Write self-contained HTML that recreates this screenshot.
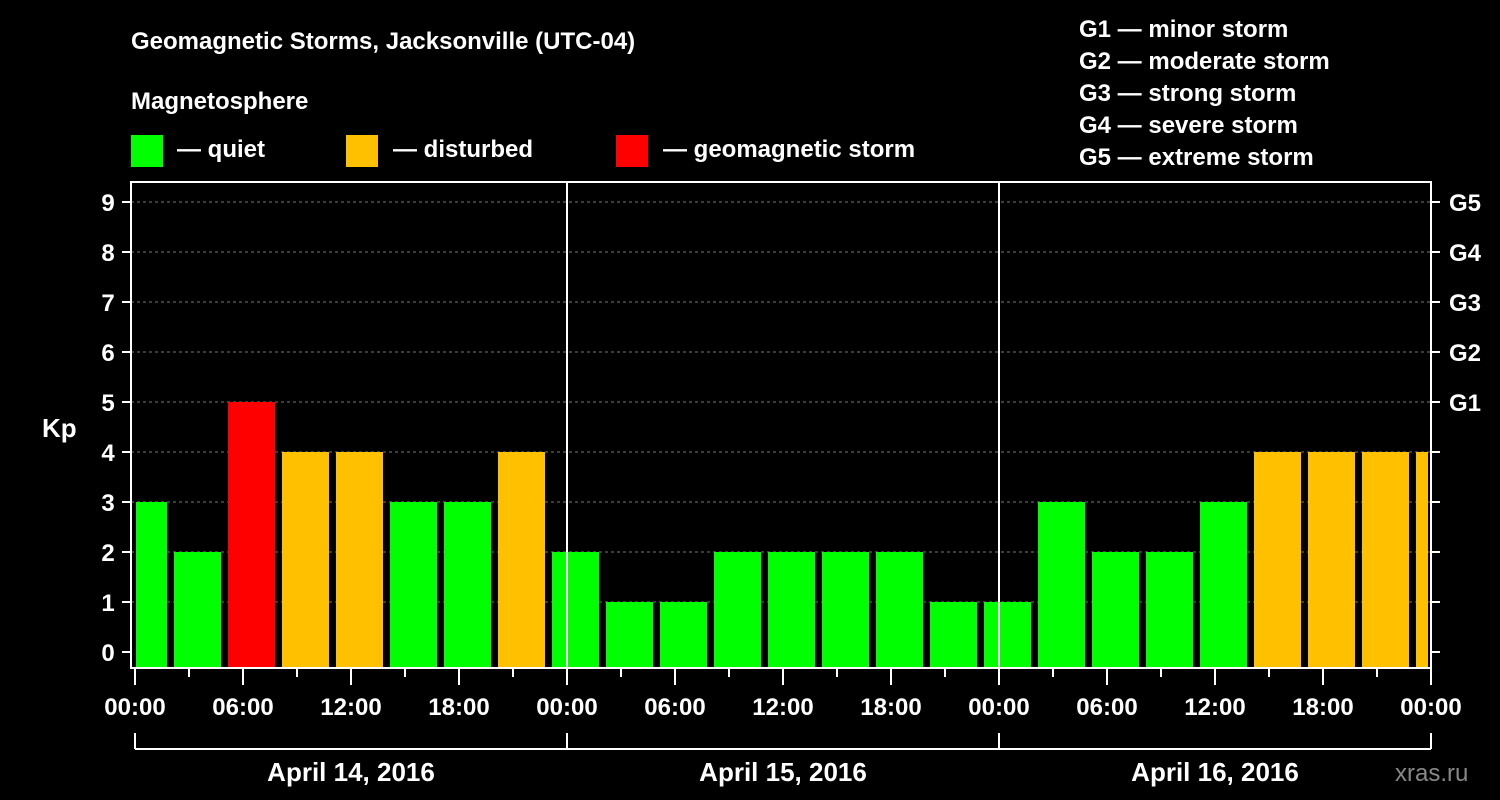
<!DOCTYPE html>
<html><head><meta charset="utf-8"><style>
body{margin:0;background:#000;}
svg{display:block;font-family:"Liberation Sans",Arial,sans-serif;font-weight:bold;}
</style></head><body>
<svg id="chart" width="1500" height="800">
<rect width="1500" height="800" fill="#000"/>
<text x="131" y="49" fill="#fff" font-size="24">Geomagnetic Storms, Jacksonville (UTC-04)</text>
<text x="131" y="109" fill="#fff" font-size="24">Magnetosphere</text>
<g><rect x="131" y="135" width="32" height="32" fill="#00ff00"/><text x="177" y="157" fill="#fff" font-size="24">— quiet</text></g>
<g><rect x="346" y="135" width="32" height="32" fill="#ffc000"/><text x="393" y="157" fill="#fff" font-size="24">— disturbed</text></g>
<g><rect x="616" y="135" width="32" height="32" fill="#ff0000"/><text x="663" y="157" fill="#fff" font-size="24">— geomagnetic storm</text></g>
<g fill="#fff" font-size="24">
<text x="1079" y="37">G1 — minor storm</text>
<text x="1079" y="69">G2 — moderate storm</text>
<text x="1079" y="101">G3 — strong storm</text>
<text x="1079" y="133">G4 — severe storm</text>
<text x="1079" y="165">G5 — extreme storm</text>
</g>
<text x="42" y="437" fill="#fff" font-size="26">Kp</text>
<text x="1395" y="781" fill="#888" font-size="24" font-weight="normal">xras.ru</text>
<g id="grid"></g><g id="bars"></g><g id="axes"></g>
</svg>
<script>
const kpValues=[3,2,5,4,4,3,3,4,2,1,1,2,2,2,2,1,1,3,2,2,3,4,4,4,4];
const barStartHours=[-1,2,5,8,11,14,17,20,23,26,29,32,35,38,41,44,47,50,53,56,59,62,65,68,71];
const dayLabels=["April 14, 2016","April 15, 2016","April 16, 2016"];
const hourLabels=["00:00","06:00","12:00","18:00"];
const gLabels=["G1","G2","G3","G4","G5"];
const NS="http://www.w3.org/2000/svg";
const X0=135,PX_H=18,Y0=652,PX_K=50,PL=131,PR=1431,PT=182,PB=668;
const xs=h=>X0+h*PX_H, ys=k=>Y0-k*PX_K;
function mk(t,a,p){const e=document.createElementNS(NS,t);for(const k in a)e.setAttribute(k,a[k]);p.appendChild(e);return e;}
const grid=document.getElementById('grid'),bars=document.getElementById('bars'),axes=document.getElementById('axes');
for(let k=1;k<=9;k++){const l=mk('line',{x1:PL,x2:PR,y1:ys(k),y2:ys(k),stroke:'#777','stroke-dasharray':'3,3'},grid);

}
kpValues.forEach((v,i)=>{
 let x1=Math.max(xs(barStartHours[i])+3,PL+5),x2=Math.min(xs(barStartHours[i]+3)-4,PR-3);
 const c=v>=5?'#ff0000':v>=4?'#ffc000':'#00ff00';
 const r=mk('rect',{x:x1,y:ys(v),width:x2-x1,height:PB-ys(v),fill:c},bars);
 
 
});
const fr=mk('rect',{x:PL,y:PT,width:PR-PL,height:PB-PT,fill:'none',stroke:'#fff','stroke-width':2},axes);


for(let d=1;d<3;d++){mk('line',{x1:xs(24*d),x2:xs(24*d),y1:PT,y2:PB,stroke:'#fff','stroke-width':2},axes);}
for(let k=0;k<=9;k++){
 mk('line',{x1:PL-9,x2:PL,y1:ys(k),y2:ys(k),stroke:'#fff','stroke-width':2},axes);
 mk('line',{x1:PR,x2:PR+9,y1:ys(k),y2:ys(k),stroke:'#fff','stroke-width':2},axes);
 const t=mk('text',{x:108,y:ys(k)+9,fill:'#fff','font-size':24,'text-anchor':'middle'},axes);t.textContent=k;
 
 
}
gLabels.forEach((g,i)=>{const t=mk('text',{x:1449,y:ys(5+i)+9,fill:'#fff','font-size':24},axes);t.textContent=g;
 
 });
for(let h=0;h<=72;h+=3){const major=h%6===0;
 mk('line',{x1:xs(h),x2:xs(h),y1:PB,y2:PB+(major?17:9),stroke:'#fff','stroke-width':2},axes);
 if(major){const t=mk('text',{x:xs(h),y:715,fill:'#fff','font-size':24,'text-anchor':'middle'},axes);t.textContent=hourLabels[(h/6)%4];
 
 }}
mk('line',{x1:X0,x2:xs(72),y1:749,y2:749,stroke:'#fff','stroke-width':2},axes);
for(let d=0;d<=3;d++)mk('line',{x1:xs(24*d),x2:xs(24*d),y1:733,y2:749,stroke:'#fff','stroke-width':2},axes);
dayLabels.forEach((s,d)=>{const t=mk('text',{x:xs(24*d+12),y:781,fill:'#fff','font-size':26,'text-anchor':'middle'},axes);t.textContent=s;
 
 });
</script>
</body></html>
